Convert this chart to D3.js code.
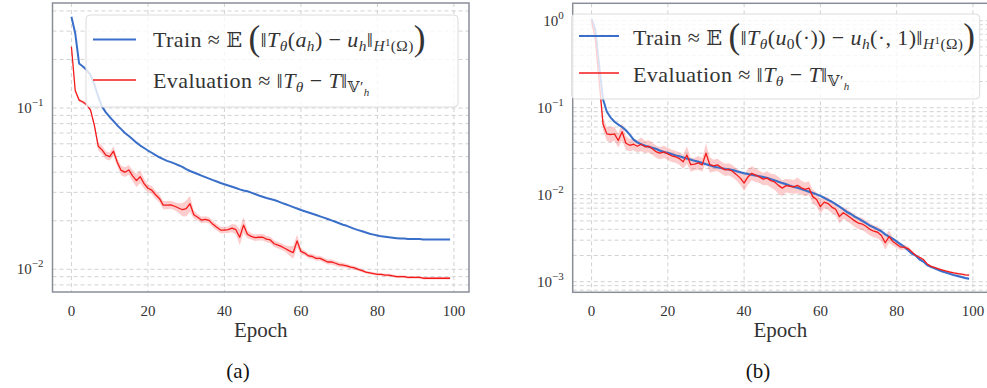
<!DOCTYPE html>
<html>
<head>
<meta charset="utf-8">
<title>Train vs evaluation error</title>
<style>
  body { margin: 0; background: #fff; }
  svg, svg text { font-family: "Liberation Serif", "DejaVu Serif", serif; }
  .grid line { stroke: #d2d2d2; stroke-dasharray: 4,3; stroke-width: 1; }
  .tick-label { font-size: 15px; fill: #333; }
</style>
</head>
<body>
<div id="chart"></div>
<script src="https://cdn.jsdelivr.net/npm/d3@7"></script>
<script>
// ---- data ----
var epochs = d3.range(0, 100);
var xTicks = [0, 20, 40, 60, 80, 100];

// (a)
var trainA = [0.368,0.29,0.189,0.181,0.172,0.16,0.14,0.118,0.102,0.094,
  0.088,0.083,0.078,0.074,0.070,0.067,0.064,0.061,0.0585,0.0565,
  0.0545,0.0528,0.051,0.0495,0.0482,0.047,0.0462,0.0452,0.0442,0.0432,
  0.0418,0.0407,0.0398,0.039,0.0381,0.0373,0.0365,0.0357,0.035,0.0343,
  0.0337,0.0331,0.0325,0.0319,0.0313,0.0308,0.0305,0.0299,0.0293,0.0287,
  0.0282,0.0277,0.0273,0.0269,0.0264,0.0258,0.0253,0.0248,0.0243,0.0238,
  0.0233,0.0229,0.0225,0.0221,0.0217,0.0213,0.0209,0.0205,0.0201,0.0197,
  0.0193,0.0189,0.0186,0.0182,0.0178,0.0175,0.0172,0.0169,0.0166,0.0164,
  0.0162,0.016,0.0159,0.0158,0.0157,0.0156,0.0155,0.0155,0.0154,0.0154,
  0.0154,0.0154,0.0153,0.0153,0.0153,0.0153,0.0153,0.0153,0.0153,0.0153];
var evalA = [0.24,0.128,0.112,0.109,0.105,0.097,0.078,0.058,0.055,0.051,
  0.050,0.054,0.046,0.041,0.040,0.0413,0.038,0.0355,0.0375,0.034,
  0.0318,0.031,0.029,0.0275,0.025,0.025,0.0251,0.0246,0.024,0.0234,
  0.0238,0.0255,0.0218,0.021,0.0202,0.0204,0.0201,0.019,0.0182,0.0175,
  0.0175,0.0176,0.018,0.0176,0.0158,0.0188,0.0165,0.016,0.0157,0.0158,
  0.0158,0.0154,0.0152,0.0144,0.0141,0.0138,0.0134,0.013,0.0127,0.0150,
  0.0129,0.0126,0.0121,0.0120,0.0117,0.0117,0.0114,0.0111,0.0111,0.0109,
  0.0107,0.0106,0.0105,0.0103,0.0102,0.0100,0.0098,0.0096,0.0095,0.0094,
  0.0093,0.0093,0.0092,0.0092,0.0091,0.0090,0.0090,0.0090,0.0089,0.0089,
  0.0089,0.0089,0.0088,0.0088,0.0088,0.0088,0.0088,0.0088,0.0088,0.0088];
// half width of the shaded band, in decades
var evalSpreadA = [0.01,0.01,0.01,0.01,0.01,0.01,0.015,0.025,0.025,0.025,
  0.025,0.03,0.025,0.03,0.03,0.03,0.035,0.04,0.04,0.03,
  0.025,0.025,0.025,0.025,0.025,0.025,0.025,0.025,0.03,0.04,
  0.05,0.05,0.025,0.02,0.02,0.02,0.02,0.02,0.02,0.02,
  0.02,0.02,0.025,0.03,0.05,0.05,0.025,0.02,0.02,0.02,
  0.02,0.02,0.02,0.02,0.02,0.02,0.02,0.03,0.04,0.04,
  0.02,0.015,0.015,0.015,0.015,0.015,0.015,0.015,0.015,0.015,
  0.015,0.015,0.012,0.012,0.012,0.01,0.01,0.008,0.008,0.008,
  0.008,0.008,0.008,0.008,0.008,0.008,0.008,0.008,0.008,0.008,
  0.008,0.008,0.008,0.008,0.008,0.008,0.008,0.008,0.008,0.008];

// (b)
var trainB = [1.05,0.78,0.30,0.125,0.09,0.077,0.069,0.064,0.060,0.055,
  0.049,0.043,0.040,0.038,0.0365,0.0356,0.0345,0.0335,0.032,0.031,
  0.0302,0.0293,0.0283,0.0276,0.0268,0.026,0.0253,0.0245,0.0239,0.0232,
  0.0224,0.0218,0.0211,0.0206,0.0202,0.0198,0.0195,0.0192,0.0186,0.0181,
  0.0176,0.0173,0.0169,0.0166,0.0163,0.016,0.0156,0.0151,0.0146,0.0141,
  0.0136,0.0132,0.0127,0.0123,0.012,0.0116,0.0112,0.0108,0.0105,0.0101,
  0.0097,0.0092,0.0087,0.0083,0.0078,0.0073,0.0068,0.0063,0.006,0.0056,
  0.0053,0.005,0.0047,0.0044,0.0042,0.004,0.0038,0.0035,0.0033,0.0031,
  0.0029,0.0027,0.0025,0.0023,0.0021,0.002,0.0018,0.0017,0.00155,0.00148,
  0.00142,0.00136,0.00131,0.00127,0.00123,0.00119,0.00116,0.00113,0.0011,0.00108];
var evalB = [1.0,0.6,0.2,0.065,0.05,0.049,0.05,0.042,0.053,0.039,
  0.037,0.038,0.036,0.038,0.0355,0.036,0.0335,0.031,0.030,0.031,
  0.0295,0.028,0.0273,0.026,0.0239,0.0286,0.0221,0.0225,0.0232,0.022,
  0.0300,0.0221,0.0215,0.022,0.0205,0.0193,0.0195,0.0185,0.017,0.0155,
  0.0136,0.016,0.0176,0.0168,0.016,0.0151,0.0155,0.0145,0.014,0.0128,
  0.0119,0.0127,0.0125,0.0123,0.0128,0.012,0.0115,0.0119,0.0095,0.0088,
  0.0073,0.0082,0.0079,0.0072,0.0068,0.0056,0.0062,0.0058,0.0054,0.005,
  0.0047,0.0046,0.0043,0.004,0.0038,0.0037,0.0034,0.0028,0.0033,0.0029,
  0.0027,0.0025,0.0025,0.0024,0.0022,0.002,0.0019,0.0018,0.0016,0.0015,
  0.00145,0.0014,0.00136,0.00132,0.00129,0.00126,0.00124,0.00122,0.0012,0.00119];
var trainSpreadB = epochs.map(function() { return 0.015; });
var evalSpreadB = [0.02,0.03,0.05,0.07,0.08,0.09,0.08,0.08,0.1,0.08,
  0.07,0.07,0.07,0.08,0.07,0.07,0.07,0.07,0.07,0.07,
  0.07,0.07,0.07,0.07,0.08,0.1,0.08,0.07,0.08,0.08,
  0.11,0.09,0.07,0.07,0.07,0.07,0.07,0.07,0.07,0.08,
  0.09,0.09,0.08,0.08,0.07,0.07,0.08,0.08,0.09,0.1,
  0.09,0.08,0.08,0.08,0.09,0.08,0.08,0.08,0.08,0.08,
  0.08,0.07,0.07,0.07,0.07,0.08,0.07,0.07,0.07,0.07,
  0.07,0.07,0.07,0.07,0.07,0.07,0.07,0.08,0.07,0.05,
  0.04,0.035,0.03,0.025,0.02,0.015,0.012,0.012,0.012,0.012,
  0.012,0.012,0.012,0.012,0.012,0.012,0.012,0.012,0.012,0.012];

// ---- drawing ----
var W = 987, H = 388;
var blue = '#3a6fc9', red = '#f41a1a';
var serif = '"Liberation Serif", "DejaVu Serif", serif';
var svg = d3.select('#chart').append('svg').attr('width', W).attr('height', H)
  .attr('font-family', serif);

// legend text pieces: [text, kind]
function mathText(g, x, y, parts, size) {
  var t = g.append('text').attr('x', x).attr('y', y)
    .attr('font-size', size).attr('fill', '#333').attr('letter-spacing', 0.4);
  var cur = 0;
  parts.forEach(function(p) {
    var txt = p[0], k = p[1];
    var off = 0, fs = size, it = false, fam = null;
    if (k === 'i') it = true;
    if (k === 's') { off = 4; fs = size * 0.7; }
    if (k === 'si') { off = 4; fs = size * 0.7; it = true; }
    if (k === 'ssup') { off = -1; fs = size * 0.5; }
    if (k === 'ssub') { off = 8; fs = size * 0.5; it = true; }
    if (k === 'big') { off = 3; fs = size * 1.6; }
    if (k === 'bb') { fam = '"DejaVu Serif", serif'; fs = size * 0.95; }
    var ts = t.append('tspan').attr('dy', off - cur).attr('font-size', fs).text(txt);
    if (it) ts.attr('font-style', 'italic');
    if (fam) ts.attr('font-family', fam);
    cur = off;
  });
  return t;
}

function panel(opt) {
  var x = d3.scaleLinear().domain([-4.95, 103.95]).range([opt.x0, opt.x1]);
  var y = d3.scaleLog().domain(opt.ydom).range([opt.y1, opt.y0]);
  var g = svg.append('g');

  // grid
  var grid = g.append('g').attr('class', 'grid');
  grid.selectAll('line.v').data(xTicks).enter().append('line')
    .attr('x1', x).attr('x2', x).attr('y1', opt.y0).attr('y2', opt.y1);
  var yGrid = [];
  for (var e = -4; e <= 0; e++) {
    for (var m = 1; m <= 9; m++) {
      var v = m * Math.pow(10, e);
      if (v >= opt.ydom[0] && v <= opt.ydom[1]) yGrid.push(v);
    }
  }
  grid.selectAll('line.h').data(yGrid).enter().append('line')
    .attr('x1', opt.x0).attr('x2', opt.x1).attr('y1', y).attr('y2', y);

  var clip = 'clip' + opt.id;
  svg.append('clipPath').attr('id', clip).append('rect')
    .attr('x', opt.x0).attr('y', opt.y0).attr('width', opt.x1 - opt.x0).attr('height', opt.y1 - opt.y0);
  var plot = g.append('g').attr('clip-path', 'url(#' + clip + ')');

  function band(vals, spread, color, op) {
    var area = d3.area()
      .x(function(d, i) { return x(epochs[i]); })
      .y0(function(d, i) { return y(d * Math.pow(10, -spread[i])); })
      .y1(function(d, i) { return y(d * Math.pow(10, spread[i])); });
    plot.append('path').datum(vals).attr('d', area).attr('fill', color).attr('fill-opacity', op);
  }
  function line(vals, color, w) {
    var ln = d3.line().x(function(d, i) { return x(epochs[i]); }).y(function(d) { return y(d); });
    plot.append('path').datum(vals).attr('d', ln).attr('fill', 'none')
      .attr('stroke', color).attr('stroke-width', w).attr('stroke-linejoin', 'round');
  }
  opt.draw(band, line);

  // spines
  g.append('rect').attr('x', opt.x0).attr('y', opt.y0)
    .attr('width', opt.x1 - opt.x0).attr('height', opt.y1 - opt.y0)
    .attr('fill', 'none').attr('stroke', '#8a8e98').attr('stroke-width', 1.5);

  // x tick labels
  g.selectAll('text.xt').data(xTicks).enter().append('text')
    .attr('class', 'tick-label').attr('x', x).attr('y', opt.y1 + 24)
    .attr('text-anchor', 'middle').text(function(d) { return d; });
  // y tick labels 10^k
  opt.yTicks.forEach(function(k) {
    var t = g.append('text').attr('class', 'tick-label')
      .attr('x', opt.x0 - 9).attr('y', y(Math.pow(10, k)) + 5).attr('text-anchor', 'end');
    t.append('tspan').text('10');
    t.append('tspan').attr('dy', -7).attr('font-size', 11).text(k === 0 ? '0' : '\u2212' + (-k));
  });

  var cx = (opt.x0 + opt.x1) / 2;
  g.append('text').attr('x', cx).attr('y', 337).attr('text-anchor', 'middle')
    .attr('font-size', 21).attr('fill', '#333').text('Epoch');
  g.append('text').attr('x', opt.capX).attr('y', 378).attr('text-anchor', 'middle')
    .attr('font-size', 21).attr('fill', '#111').text(opt.caption);

  // legend
  var lg = svg.append('g');
  lg.append('rect').attr('x', opt.leg[0]).attr('y', opt.leg[1])
    .attr('width', opt.leg[2]).attr('height', opt.leg[3]).attr('rx', 4)
    .attr('fill', '#fff').attr('fill-opacity', 0.8).attr('stroke', '#dcdcdc');
  lg.append('line').attr('x1', opt.lx[0]).attr('x2', opt.lx[1])
    .attr('y1', opt.ly[0]).attr('y2', opt.ly[0]).attr('stroke', blue).attr('stroke-width', 2);
  lg.append('line').attr('x1', opt.lx[0]).attr('x2', opt.lx[1])
    .attr('y1', opt.ly[1]).attr('y2', opt.ly[1]).attr('stroke', red).attr('stroke-width', 1.5);
  mathText(lg, opt.tx, opt.ty[0], opt.trainLabel, 22);
  mathText(lg, opt.tx, opt.ty[1], evalLabel, 22);
}

var evalLabel = [['Evaluation \u2248 \u2016', 'r'], ['T', 'i'], ['\u03b8', 'si'], [' \u2212 ', 'r'],
  ['T', 'i'], ['\u2016', 'r'], ['\ud835\udd4d', 's'], ['\u2032', 's'], ['h', 'ssub']];

panel({
  id: 'a', x0: 52.5, x1: 469, y0: 3, y1: 292, ydom: [0.00723, 0.448], yTicks: [-1, -2],
  caption: '(a)', capX: 238,
  leg: [86, 15, 372, 92], lx: [93, 136], ly: [39.5, 80], tx: 153, ty: [46.5, 88],
  trainLabel: [['Train \u2248 ', 'r'], ['\ud835\udd3c', 'bb'], [' ', 'r'], ['(', 'big'], ['\u2016', 'r'],
    ['T', 'i'], ['\u03b8', 'si'], ['(', 'r'], ['a', 'i'], ['h', 'si'], [') \u2212 ', 'r'], ['u', 'i'],
    ['h', 'si'], ['\u2016', 'r'], ['H', 'si'], ['1', 'ssup'], ['(\u03a9)', 's'], [')', 'big']],
  draw: function(band, line) {
    band(evalA, evalSpreadA, red, 0.22);
    line(trainA, blue, 2);
    line(evalA, red, 1.3);
  }
});

panel({
  id: 'b', x0: 572.7, x1: 988, y0: 3.3, y1: 292.3, ydom: [0.000755, 1.585], yTicks: [0, -1, -2, -3],
  caption: '(b)', capX: 758,
  leg: [571.7, 14, 408, 85], lx: [579, 619], ly: [36, 73], tx: 633, ty: [45, 81.5],
  trainLabel: [['Train \u2248 ', 'r'], ['\ud835\udd3c', 'bb'], [' ', 'r'], ['(', 'big'], ['\u2016', 'r'],
    ['T', 'i'], ['\u03b8', 'si'], ['(', 'r'], ['u', 'i'], ['0', 's'], ['(\u00b7)) \u2212 ', 'r'], ['u', 'i'],
    ['h', 'si'], ['(\u00b7, 1)\u2016', 'r'], ['H', 'si'], ['1', 'ssup'], ['(\u03a9)', 's'], [')', 'big']],
  draw: function(band, line) {
    band(trainB, trainSpreadB, blue, 0.25);
    band(evalB, evalSpreadB, red, 0.22);
    line(trainB, blue, 2);
    line(evalB, red, 1.3);
  }
});
</script>
</body>
</html>
